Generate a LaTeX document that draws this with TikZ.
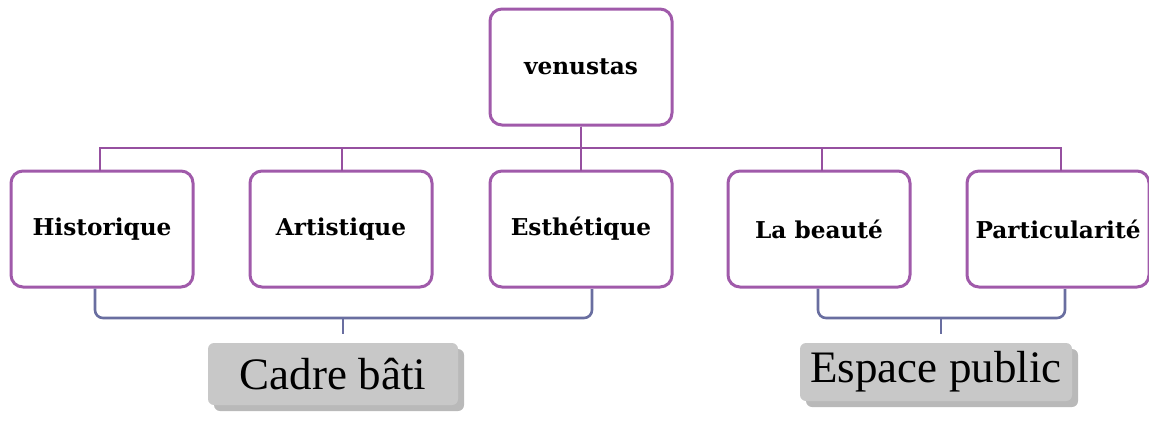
\documentclass[tikz,border=0pt]{standalone}
\usepackage{fontspec}
\setmainfont{Liberation Serif}
\newfontfamily\boxfont{DejaVu Serif}
\usetikzlibrary{shadows}
\definecolor{boxpurple}{RGB}{160,90,170}
\definecolor{linkpurple}{RGB}{150,80,160}
\definecolor{brackblue}{RGB}{105,110,160}
\definecolor{labgray}{RGB}{200,200,200}
\tikzset{
  concept/.style={draw=boxpurple, line width=1.5pt, rounded corners=6pt, fill=white,
    minimum width=91pt, minimum height=58pt, inner sep=0pt,
    font=\boxfont\bfseries\fontsize{11.6}{13}\selectfont},
  link/.style={draw=linkpurple, line width=1.4pt},
  brack/.style={draw=brackblue, line width=1.3pt, rounded corners=4pt},
  grouplabel/.style={fill=labgray, rounded corners=3pt, minimum height=31pt,
    inner sep=0pt, font=\fontsize{22.5}{26}\selectfont,
    drop shadow={shadow xshift=3pt, shadow yshift=-3pt, fill=black!50, opacity=0.55}},
}
\begin{document}
\begin{tikzpicture}[x=0.5pt,y=-0.5pt]
\useasboundingbox (0,0) rectangle (1149,423);
\node[concept] (top) at (581,67) {venustas};
\node[concept] (hist) at (102,229) {Historique};
\node[concept] (art) at (341,229) {Artistique};
\node[concept] (esth) at (581,229) {Esthétique};
\node[concept] (beau) at (819,229) {La beauté};
\node[concept] (part) at (1058,229) {Particularité};
\foreach \c/\x in {hist/100, art/342, esth/581, beau/822, part/1061}{
  \draw[link] (top.south) -- (581,148) -- (\x,148) -- (\x,171);
}
\node[grouplabel, minimum width=125pt] (cadre) at (333,374) {Cadre bâti};
\node[grouplabel, minimum width=136pt, minimum height=29pt] (espace) at (936,372) {Espace public};
\coordinate (t1) at (343,334);
\coordinate (t2) at (941,334);
\draw[brack] ([xshift=-3.5pt]hist.south) |- (592,318) -- (592,289);
\draw[brack] (343,318) -- (t1);
\draw[brack] ([xshift=-0.5pt]beau.south) |- (1065,318) -- (1065,289);
\draw[brack] (941,318) -- (t2);
\end{tikzpicture}
\end{document}
